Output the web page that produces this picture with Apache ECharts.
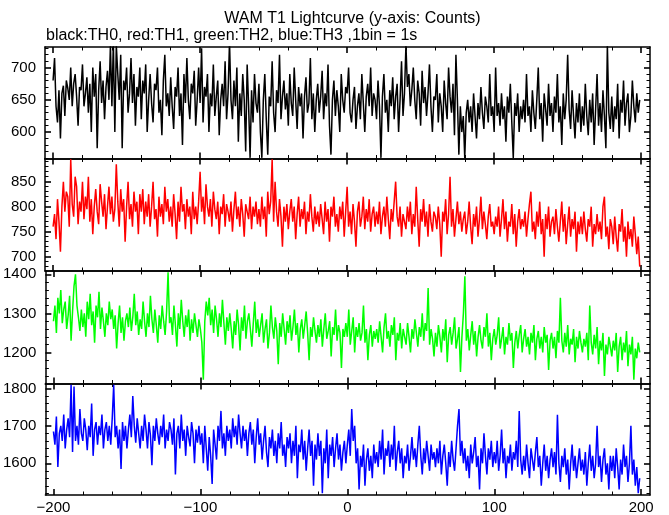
<!DOCTYPE html>
<html><head><meta charset="utf-8">
<script src="https://cdn.jsdelivr.net/npm/echarts@6/dist/echarts.min.js"></script>
<style>html,body{margin:0;padding:0;background:#fff}#c{width:669px;height:515px}</style>
</head><body><div id="c"></div>
<script>
const titleText = 'WAM T1 Lightcurve (y-axis: Counts)';
const subtitleText = 'black:TH0, red:TH1, green:TH2, blue:TH3 ,1bin = 1s';
const seriesNames = ['TH0', 'TH1', 'TH2', 'TH3'];
const seriesColors = ['#000000', '#ff0000', '#00ff00', '#0000ff'];
const xTickLabels = [-200, -100, 0, 100, 200];
const yTickLabels = [[600, 650, 700], [700, 750, 800, 850], [1200, 1300, 1400], [1600, 1700, 1800]];
const firstBin = -200;

const th0 = [
680,715,640,615,665,590,660,672,625,680,668,650,700,640,675,690,655,610,670,665,
705,640,660,685,630,675,600,700,655,690,575,665,710,645,680,620,670,695,650,735,
640,740,600,735,690,650,720,575,680,665,700,630,660,715,645,690,610,670,655,700,
620,680,660,705,600,650,690,645,615,675,665,700,630,650,595,680,720,640,660,625,
685,640,605,670,655,700,625,660,580,690,645,715,650,620,675,660,695,610,650,700,
645,730,615,670,655,690,600,660,640,705,625,655,680,595,650,675,640,710,620,660,
740,650,620,680,640,700,585,660,625,690,650,570,705,640,560,665,615,690,645,630,
675,600,560,650,690,620,565,655,640,710,630,600,665,645,720,620,655,680,635,660,
610,690,645,625,700,650,605,670,640,660,590,655,685,630,645,715,620,660,600,650,
675,630,655,695,620,660,640,705,610,565,650,680,625,665,640,600,690,650,630,670,
660,700,630,615,650,670,605,640,660,620,690,645,600,655,675,640,700,625,660,650,
620,680,640,560,655,690,630,650,600,665,640,685,620,655,675,600,650,710,625,660,
735,670,690,640,665,700,650,620,680,660,610,695,645,670,625,660,705,640,600,655,
650,690,615,660,640,600,680,645,620,700,655,630,675,595,720,650,565,640,600,625,
560,630,650,615,640,600,660,625,590,645,620,670,630,605,655,640,615,690,625,640,
600,700,625,645,610,660,620,640,585,655,630,675,615,560,645,625,660,600,640,620,
650,615,690,625,640,600,665,630,605,650,700,620,645,585,660,635,610,675,625,645,
600,655,630,690,615,640,580,660,620,650,720,635,605,665,625,590,645,615,660,600,
640,610,675,625,595,650,615,660,580,635,690,610,645,600,665,625,575,735,630,605,
655,600,640,620,675,590,650,630,680,610,645,660,600,625,680,640,615,660,630,650
];
const th1 = [
760,785,735,815,770,710,800,850,790,830,820,760,895,805,780,860,840,765,810,790,
850,775,820,795,860,770,815,745,800,835,790,765,845,810,780,825,755,800,840,785,
820,770,795,885,810,760,835,790,815,730,800,850,775,805,760,830,790,810,745,825,
790,835,765,810,780,825,760,800,850,775,795,740,820,780,805,765,840,790,815,770,
800,760,825,785,735,810,770,840,790,805,755,815,780,800,745,830,775,800,765,810,
870,790,820,765,845,800,780,815,760,830,795,775,810,745,800,785,825,760,805,790,
770,810,750,795,830,775,800,760,815,785,740,805,790,775,820,755,800,780,810,765,
795,760,820,775,800,740,830,785,810,895,770,850,790,760,815,780,720,800,770,805,
755,790,815,770,800,735,785,820,760,795,775,810,745,790,770,825,780,750,800,765,
790,760,805,775,745,810,770,795,730,800,780,820,760,785,750,800,775,810,740,790,
840,760,790,745,805,770,720,790,810,760,780,820,755,795,770,815,750,785,800,760,
790,765,810,745,780,800,760,820,775,735,795,770,810,850,780,760,800,740,785,770,
755,800,770,810,745,785,760,840,775,720,795,770,815,760,790,740,805,770,750,790,
780,755,800,765,700,790,770,815,745,785,860,760,795,740,775,810,765,790,750,775,
790,745,770,810,760,725,785,760,800,740,775,820,755,790,765,735,780,805,760,770,
745,780,760,800,740,775,815,755,790,730,770,760,805,745,785,720,770,795,755,775,
760,790,740,775,805,830,750,770,735,790,760,810,745,775,700,785,755,800,740,770,
780,745,795,760,730,770,810,750,785,725,765,800,740,775,755,790,710,770,745,780,
745,790,755,730,775,760,800,720,765,745,785,750,770,735,800,820,740,760,715,775,
760,725,780,740,710,765,750,795,730,760,700,770,735,755,720,780,745,705,740,680
];
const th2 = [
1280,1320,1250,1340,1300,1360,1275,1310,1330,1260,1295,1345,1230,1305,1370,1400,1320,1290,1255,1310,
1265,1300,1240,1330,1285,1350,1270,1305,1225,1320,1290,1355,1260,1315,1280,1240,1300,1270,1330,1285,
1310,1260,1295,1210,1275,1320,1250,1290,1230,1280,1300,1265,1315,1255,1290,1350,1270,1305,1245,1285,
1260,1330,1280,1240,1300,1265,1345,1285,1250,1310,1270,1225,1295,1260,1320,1280,1245,1305,1405,1275,
1290,1245,1320,1270,1215,1300,1260,1335,1280,1240,1295,1265,1310,1230,1285,1250,1300,1270,1240,1285,
1260,1225,1130,1280,1330,1295,1340,1270,1310,1250,1320,1285,1240,1300,1265,1335,1275,1220,1290,1255,
1300,1260,1210,1280,1245,1310,1270,1205,1290,1255,1320,1235,1280,1300,1260,1215,1275,1330,1250,1285,
1240,1270,1300,1225,1260,1285,1210,1250,1320,1265,1235,1290,1255,1170,1275,1240,1300,1260,1220,1280,
1250,1295,1230,1265,1310,1245,1275,1200,1260,1285,1235,1270,1305,1250,1180,1265,1240,1290,1255,1225,
1270,1240,1285,1215,1260,1300,1235,1255,1280,1190,1265,1245,1310,1230,1270,1250,1160,1260,1240,1275,
1240,1310,1220,1255,1290,1200,1265,1240,1275,1230,1250,1320,1225,1260,1180,1245,1270,1215,1255,1235,
1260,1225,1280,1240,1200,1265,1300,1235,1255,1215,1270,1245,1290,1180,1250,1230,1275,1210,1260,1240,
1220,1275,1240,1200,1260,1235,1285,1250,1215,1265,1240,1300,1230,1275,1255,1365,1220,1260,1235,1190,
1250,1215,1270,1240,1200,1260,1230,1285,1175,1245,1265,1220,1250,1290,1210,1235,1265,1150,1240,1300,
1395,1230,1260,1205,1245,1280,1220,1255,1190,1240,1270,1230,1210,1265,1240,1300,1215,1250,1180,1235,
1260,1220,1245,1290,1210,1235,1265,1195,1240,1220,1275,1230,1250,1160,1225,1255,1210,1245,1270,1200,
1235,1260,1215,1240,1195,1250,1225,1270,1180,1235,1255,1210,1240,1200,1265,1225,1245,1155,1230,1250,
1210,1240,1185,1255,1225,1340,1230,1200,1250,1215,1270,1195,1235,1220,1260,1175,1240,1210,1255,1225,
1200,1235,1215,1250,1180,1320,1225,1195,1245,1210,1265,1170,1230,1205,1250,1140,1220,1195,1240,1215,
1190,1230,1205,1250,1150,1215,1240,1180,1225,1200,1255,1165,1220,1195,1240,1130,1210,1185,1225,1200
];
const th3 = [
1685,1650,1725,1590,1680,1700,1660,1730,1640,1690,1720,1670,1810,1630,1805,1660,1700,1650,1745,1680,
1660,1720,1690,1635,1700,1670,1760,1620,1690,1710,1650,1700,1675,1730,1640,1690,1710,1660,1700,1650,
1720,1810,1670,1700,1640,1690,1585,1710,1660,1700,1640,1690,1730,1670,1780,1700,1655,1720,1680,1640,
1700,1660,1730,1690,1640,1710,1675,1595,1700,1660,1720,1680,1650,1700,1670,1730,1640,1690,1660,1710,
1690,1650,1720,1570,1680,1700,1640,1730,1660,1690,1620,1700,1670,1645,1710,1680,1600,1690,1655,1700,
1650,1680,1600,1700,1640,1580,1670,1620,1545,1690,1650,1610,1700,1660,1740,1640,1680,1620,1700,1660,
1690,1640,1720,1670,1700,1650,1730,1680,1640,1700,1660,1690,1620,1680,1710,1650,1690,1600,1670,1720,
1650,1680,1610,1660,1700,1630,1590,1670,1640,1690,1620,1660,1600,1680,1640,1710,1620,1650,1590,1670,
1640,1680,1600,1660,1620,1700,1560,1650,1630,1690,1610,1660,1580,1640,1690,1620,1660,1540,1650,1610,
1680,1620,1660,1520,1640,1600,1690,1560,1650,1620,1670,1590,1640,1680,1610,1650,1580,1630,1660,1600,
1650,1690,1620,1745,1660,1700,1600,1640,1530,1620,1590,1650,1540,1610,1640,1580,1620,1560,1650,1600,
1630,1590,1660,1610,1690,1570,1640,1620,1660,1590,1650,1610,1700,1580,1630,1660,1600,1640,1560,1620,
1600,1650,1580,1620,1670,1610,1640,1590,1650,1700,1620,1570,1640,1600,1660,1620,1580,1650,1610,1630,
1590,1640,1600,1660,1570,1620,1650,1600,1540,1630,1590,1660,1610,1580,1640,1700,1745,1620,1660,1600,
1640,1580,1620,1560,1650,1600,1630,1670,1590,1620,1530,1640,1600,1680,1620,1570,1640,1610,1660,1590,
1630,1600,1660,1580,1620,1690,1600,1640,1560,1620,1600,1650,1580,1630,1610,1660,1590,1740,1610,1570,
1620,1580,1650,1600,1560,1640,1610,1580,1630,1670,1590,1620,1540,1600,1650,1580,1620,1560,1610,1640,
1590,1630,1570,1730,1600,1550,1620,1590,1640,1570,1610,1530,1600,1650,1580,1620,1560,1600,1640,1580,
1610,1570,1630,1540,1600,1650,1580,1620,1560,1600,1700,1590,1620,1550,1610,1640,1570,1600,1530,1620,
1580,1620,1560,1640,1590,1530,1610,1570,1650,1590,1620,1550,1600,1700,1570,1610,1540,1590,1520,1560
];

const allSeries = [th0, th1, th2, th3];

// layout (pixels) and axis ranges
const plotLeft = 45, plotRight = 650;
const panelTops = [47, 158.5, 271, 383.5];
const panelBottoms = [158.5, 271, 383.5, 496];
const xRange = [-205.5, 206];
const yRanges = [[559, 732], [671.2, 896.4], [1120.5, 1408.5], [1515.4, 1813.2]];
const yMinorStep = [10, 10, 20, 20];
const xMinorStep = 20;

const FONT = '"Liberation Sans", Arial, Helvetica, sans-serif';
const minusFmt = v => String(v).replace('-', '\u2212');

function minorTicks(lo, hi, step, majors) {
  const out = [];
  for (let v = Math.ceil(lo / step) * step; v <= hi; v += step) {
    if (majors.indexOf(v) < 0) out.push(v);
  }
  return out;
}

const grids = [], xAxes = [], yAxes = [], series = [];
for (let g = 0; g < 4; g++) {
  grids.push({ left: plotLeft, width: plotRight - plotLeft, top: panelTops[g], height: panelBottoms[g] - panelTops[g], show: false });
  const xMinor = minorTicks(-200, 200, xMinorStep, xTickLabels);
  const yMajor = yTickLabels[g];
  const yMin = minorTicks(yRanges[g][0], yRanges[g][1], yMinorStep[g], yMajor);
  const xi0 = xAxes.length, yi0 = yAxes.length;
  const mk = (pos, ticks, major, labels) => ({
    type: 'value', gridIndex: g, position: pos,
    min: pos === 'top' || pos === 'bottom' ? xRange[0] : yRanges[g][0],
    max: pos === 'top' || pos === 'bottom' ? xRange[1] : yRanges[g][1],
    splitLine: { show: false }, minorTick: { show: false },
    axisLine: { show: major, onZero: false, lineStyle: { color: '#000', width: 1.5 } },
    axisTick: { show: true, inside: true, customValues: ticks, length: major ? 6 : 3.5, lineStyle: { color: '#000', width: major ? 1.6 : 1 } },
    axisLabel: labels ? { show: true, customValues: ticks, color: '#000', fontFamily: FONT, fontSize: 15, margin: (pos === 'bottom' ? 5 : 9), formatter: minusFmt, hideOverlap: false } : { show: false }
  });
  xAxes.push(mk('bottom', xTickLabels, true, g === 3));
  xAxes.push(mk('bottom', xMinor, false, false));
  xAxes.push(mk('top', xTickLabels, true, false));
  xAxes.push(mk('top', xMinor, false, false));
  yAxes.push(mk('left', yMajor, true, true));
  yAxes.push(mk('left', yMin, false, false));
  yAxes.push(mk('right', yMajor, true, false));
  yAxes.push(mk('right', yMin, false, false));
  const vals = allSeries[g];
  series.push({
    name: seriesNames[g], type: 'line', xAxisIndex: xi0, yAxisIndex: yi0,
    data: vals.map((v, i) => [firstBin + i, v]),
    step: 'end', symbol: 'none', clip: true, animation: false,
    lineStyle: { color: seriesColors[g], width: 1.5 }
  });
}

const chart = echarts.init(document.getElementById('c'), null, { renderer: 'canvas' });
chart.setOption({
  backgroundColor: '#ffffff',
  animation: false,
  title: [
    { text: titleText, left: 347.5, textAlign: 'center', top: 6, textStyle: { fontFamily: FONT, fontSize: 16, fontWeight: 'normal', color: '#000' } },
    { text: subtitleText, left: 41, top: 23, textStyle: { fontFamily: FONT, fontSize: 16, fontWeight: 'normal', color: '#000' } }
  ],
  grid: grids, xAxis: xAxes, yAxis: yAxes, series: series
});
</script></body></html>
